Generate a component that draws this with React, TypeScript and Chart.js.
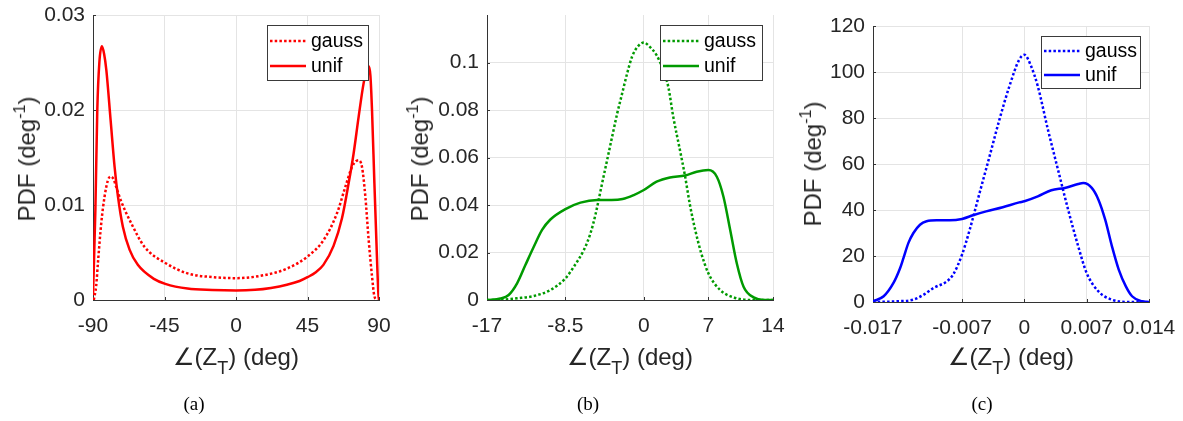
import React, { useEffect, useRef } from "react";
import { Chart, registerables } from "chart.js";

Chart.register(...registerables);

// ---------- Panel (a) ----------
const aTickX = [-90, -45, 0, 45, 90];
const aTickXLabels = ["-90", "-45", "0", "45", "90"];
const aTickY = [0, 0.01, 0.02, 0.03];
const aTickYLabels = ["0", "0.01", "0.02", "0.03"];
const aGaussX = [-89.5, -88, -86.9, -84.8, -82.7, -80.6, -78.9, -77, -75.4, -72.3, -66, -57.6, -44.5, -30.5, -13.8, 0, 17.2, 32, 45.2, 55.1, 63.5, 68.8, 73, 75.5, 77.2, 79.3, 81.4, 83.5, 85.6, 87.1, 88.8];
const aGaussY = [0, 0.0015, 0.0039, 0.0081, 0.0109, 0.0126, 0.013, 0.0127, 0.0119, 0.0104, 0.0081, 0.0056, 0.0039, 0.0028, 0.0024, 0.0023, 0.0026, 0.0033, 0.0046, 0.0063, 0.0091, 0.0119, 0.014, 0.0146, 0.0147, 0.014, 0.0109, 0.0063, 0.0025, 0.0004, 0];
const aUnifX = [-90, -88.5, -87.3, -86, -84.4, -83, -81.6, -78.9, -76.4, -74.3, -71.2, -67, -61.8, -51.4, -44.5, -30.5, -15, 0, 12, 22, 32, 40, 45, 50, 55, 61.4, 66.7, 70.9, 74, 77.2, 80.3, 82.4, 83.6, 84.6, 85.6, 87.1, 88.4, 89.6, 90];
const aUnifY = [0.0005, 0.0095, 0.02, 0.025, 0.0267, 0.0259, 0.0242, 0.0189, 0.014, 0.0109, 0.0077, 0.0053, 0.0037, 0.0022, 0.0017, 0.0012, 0.00105, 0.001, 0.00107, 0.00127, 0.0016, 0.002, 0.0024, 0.0029, 0.0037, 0.0057, 0.0086, 0.0123, 0.0154, 0.0193, 0.0228, 0.0243, 0.0246, 0.0236, 0.02, 0.0123, 0.006, 0.0007, 0];

// ---------- Panel (b) ----------
const bTickX = [-17, -8.5, 0, 7, 14];
const bTickXLabels = ["-17", "-8.5", "0", "7", "14"];
const bTickY = [0, 0.02, 0.04, 0.06, 0.08, 0.1];
const bTickYLabels = ["0", "0.02", "0.04", "0.06", "0.08", "0.1"];
const bGaussX = [-17, -15, -13.74, -11.93, -10.13, -8.5, -7.59, -6.51, -5.79, -5.24, -4.96, -4.53, -3.98, -3.44, -2.89, -2.35, -1.81, -1.27, -0.7, 0, 0.65, 1.38, 2.1, 2.65, 3.19, 3.92, 4.46, 5.0, 5.6, 6.2, 7, 8.27, 9.72, 11.53, 14];
const bGaussY = [0, 0.0002, 0.0007, 0.0017, 0.0042, 0.0091, 0.014, 0.021, 0.028, 0.036, 0.041, 0.049, 0.0589, 0.0687, 0.0785, 0.087, 0.0954, 0.1025, 0.1065, 0.1084, 0.1066, 0.1031, 0.0968, 0.0898, 0.0771, 0.063, 0.0523, 0.04, 0.029, 0.02, 0.0112, 0.0042, 0.0011, 0, 0];
const bUnifX = [-17, -15.55, -14.65, -13.74, -12.84, -11.93, -11.03, -10.13, -8.5, -6.87, -5.06, -3.5, -2.3, -1.09, 0, 1.38, 2.83, 4.46, 5.73, 7, 7.91, 8.63, 9.36, 10.08, 10.81, 11.9, 12.99, 14];
const bUnifY = [0, 0.0006, 0.0021, 0.007, 0.0147, 0.0224, 0.0295, 0.0339, 0.0383, 0.041, 0.0421, 0.0421, 0.0425, 0.0442, 0.0463, 0.0498, 0.0516, 0.0524, 0.054, 0.0547, 0.0519, 0.0435, 0.0295, 0.0154, 0.0056, 0.0011, 0, 0];

// ---------- Panel (c) ----------
const cTickX = [-0.017, -0.007, 0, 0.007, 0.014];
const cTickXLabels = ["-0.017", "-0.007", "0", "0.007", "0.014"];
const cTickY = [0, 20, 40, 60, 80, 100, 120];
const cTickYLabels = ["0", "20", "40", "60", "80", "100", "120"];
const cGaussX = [-0.017, -0.0143, -0.0125, -0.0113, -0.0102, -0.0087, -0.008, -0.007, -0.00614, -0.00503, -0.00391, -0.0028, -0.00168, -0.00057, 0, 0.00076, 0.00151, 0.00265, 0.00378, 0.00492, 0.00605, 0.007, 0.00832, 0.00984, 0.0117, 0.014];
const cGaussY = [0, 0.3, 1.0, 3.2, 6.1, 9.0, 11.9, 20.6, 31.4, 47.4, 63.3, 79.3, 93.8, 105.4, 107.5, 102.5, 93.8, 74.9, 57.5, 40.1, 24.2, 12.6, 4.6, 1.0, 0, 0];
const cUnifX = [-0.017, -0.0158, -0.0147, -0.01395, -0.01358, -0.01302, -0.01246, -0.01172, -0.01098, -0.00986, -0.00838, -0.007, -0.00577, -0.00429, -0.00243, -0.00057, 0, 0.00151, 0.00303, 0.00454, 0.00605, 0.00662, 0.00757, 0.00832, 0.00908, 0.00984, 0.0106, 0.0114, 0.0121, 0.0132, 0.014];
const cUnifY = [0.3, 2.5, 8.3, 14.8, 19.1, 25.7, 30.0, 33.6, 35.1, 35.5, 35.5, 36.1, 37.7, 39.4, 41.2, 43.3, 43.8, 45.9, 48.6, 49.6, 51.3, 51.7, 49.6, 44.5, 35.8, 24.2, 14.1, 6.8, 2.5, 0.3, 0];

const seriesNames = ["gauss", "unif"];
const panelColors = ["#ff0000", "#009a00", "#0000ff"];
const captions = ["(a)", "(b)", "(c)"];

const FONT = '"Liberation Sans", "DejaVu Sans", Arial, sans-serif';
const TEXT = "#262626";
const CANVAS_TOP = -40; // canvas starts above page so label overflow padding never shrinks the plot
const PAD_RIGHT = 50;

type Panel = {
  left: number;
  area: { left: number; right: number; top: number; bottom: number };
  xMin: number; xMax: number; yMin: number; yMax: number;
  tickX: number[]; tickXLabels: string[]; tickY: number[]; tickYLabels: string[];
  gx: number[]; gy: number[]; ux: number[]; uy: number[];
  color: string;
  legend: { right: number; top: number; width: number; height: number; rows: number[] };
  yTitleX: number; yTitleY: number; captionX: number; caption: string;
};

const panels: Panel[] = [
  {
    left: 0,
    area: { left: 93, right: 379, top: 15, bottom: 300 },
    xMin: -90, xMax: 90, yMin: 0, yMax: 0.03,
    tickX: aTickX, tickXLabels: aTickXLabels, tickY: aTickY, tickYLabels: aTickYLabels,
    gx: aGaussX, gy: aGaussY, ux: aUnifX, uy: aUnifY, color: panelColors[0],
    legend: { right: 112, top: 10, width: 101, height: 55, rows: [16, 41] },
    yTitleX: 27, yTitleY: 159, captionX: 194, caption: captions[0],
  },
  {
    left: 395,
    area: { left: 487, right: 773, top: 15, bottom: 300 },
    xMin: -17, xMax: 14, yMin: 0, yMax: 0.12,
    tickX: bTickX, tickXLabels: bTickXLabels, tickY: bTickY, tickYLabels: bTickYLabels,
    gx: bGaussX, gy: bGaussY, ux: bUnifX, uy: bUnifY, color: panelColors[1],
    legend: { right: 113, top: 10, width: 102, height: 55, rows: [16, 41] },
    yTitleX: 420, yTitleY: 159, captionX: 588, caption: captions[1],
  },
  {
    left: 790,
    area: { left: 873, right: 1149, top: 26, bottom: 302 },
    xMin: -0.017, xMax: 0.014, yMin: 0, yMax: 120,
    tickX: cTickX, tickXLabels: cTickXLabels, tickY: cTickY, tickYLabels: cTickYLabels,
    gx: cGaussX, gy: cGaussY, ux: cUnifX, uy: cUnifY, color: panelColors[2],
    legend: { right: 108, top: 10, width: 99, height: 52, rows: [15, 39] },
    yTitleX: 813, yTitleY: 164, captionX: 982, caption: captions[2],
  },
];

const CANVAS_BOTTOM = 348;

const zip = (xs: number[], ys: number[]) => xs.map((x, i) => ({ x, y: ys[i] }));

const boxLegend = {
  id: "boxLegend",
  afterDatasetsDraw(chart: any, _args: any, opts: any) {
    const { ctx, chartArea } = chart;
    const x = Math.round(chartArea.right - opts.right);
    const y = Math.round(chartArea.top + opts.top);
    ctx.save();
    ctx.fillStyle = "#ffffff";
    ctx.fillRect(x, y, opts.width, opts.height);
    ctx.strokeStyle = "#3a3a3a";
    ctx.lineWidth = 1;
    ctx.setLineDash([]);
    ctx.strokeRect(x + 0.5, y + 0.5, opts.width, opts.height);
    chart.data.datasets.forEach((ds: any, i: number) => {
      const ry = y + opts.rows[i];
      ctx.beginPath();
      ctx.setLineDash(ds.borderDash || []);
      ctx.strokeStyle = ds.borderColor;
      ctx.lineWidth = ds.borderWidth;
      ctx.lineCap = "butt";
      ctx.moveTo(x + 3, ry);
      ctx.lineTo(x + 39, ry);
      ctx.stroke();
      ctx.setLineDash([]);
      ctx.fillStyle = "#000000";
      ctx.font = `19.5px ${FONT}`;
      ctx.textBaseline = "middle";
      ctx.textAlign = "left";
      ctx.fillText(ds.label, x + 44, ry + 1);
    });
    ctx.restore();
  },
};

const innerTicks = {
  id: "innerTicks",
  beforeDatasetsDraw(chart: any) {
    const { ctx, chartArea, scales } = chart;
    const xs = scales.x, ys = scales.y;
    ctx.save();
    ctx.strokeStyle = "#333333";
    ctx.lineWidth = 1;
    xs.ticks.forEach((t: any) => {
      const px = Math.round(xs.getPixelForValue(t.value)) + 0.5;
      ctx.beginPath();
      ctx.moveTo(px, chartArea.bottom);
      ctx.lineTo(px, chartArea.bottom - 3);
      ctx.stroke();
    });
    ys.ticks.forEach((t: any) => {
      const py = Math.round(ys.getPixelForValue(t.value)) + 0.5;
      ctx.beginPath();
      ctx.moveTo(chartArea.left, py);
      ctx.lineTo(chartArea.left + 3, py);
      ctx.stroke();
    });
    ctx.restore();
  },
};

function PanelChart({ p }: { p: Panel }) {
  const ref = useRef<HTMLCanvasElement | null>(null);
  const width = p.area.right + PAD_RIGHT - p.left;
  const height = CANVAS_BOTTOM - CANVAS_TOP;
  useEffect(() => {
    if (!ref.current) return;
    const padTop = p.area.top - CANVAS_TOP;
    const yW = p.area.left - p.left;
    const xH = CANVAS_BOTTOM - p.area.bottom;
    const chart = new Chart(ref.current, {
      type: "line",
      data: {
        datasets: [
          {
            label: seriesNames[0],
            data: zip(p.gx, p.gy),
            borderColor: p.color,
            backgroundColor: p.color,
            borderWidth: 2.5,
            borderDash: [2.5, 2.2],
            pointRadius: 0,
            cubicInterpolationMode: "monotone",
            fill: false,
          },
          {
            label: seriesNames[1],
            data: zip(p.ux, p.uy),
            borderColor: p.color,
            backgroundColor: p.color,
            borderWidth: 2.5,
            pointRadius: 0,
            cubicInterpolationMode: "monotone",
            fill: false,
          },
        ],
      },
      options: {
        animation: false,
        responsive: false,
        devicePixelRatio: 1,
        events: [],
        layout: { padding: { top: padTop, right: PAD_RIGHT, left: 0, bottom: 0 } },
        plugins: {
          legend: { display: false },
          tooltip: { enabled: false },
          boxLegend: p.legend,
        } as any,
        scales: {
          x: {
            type: "linear",
            min: p.xMin,
            max: p.xMax,
            afterBuildTicks: (s: any) => { s.ticks = p.tickX.map((v) => ({ value: v })); },
            afterFit: (s: any) => { s.height = xH; },
            ticks: {
              autoSkip: false,
              maxRotation: 0,
              padding: 14,
              color: TEXT,
              font: { family: FONT, size: 21 },
              callback: (v: any) => {
                const i = p.tickX.findIndex((t) => Math.abs(t - v) < 1e-9);
                return i >= 0 ? p.tickXLabels[i] : "";
              },
            },
            grid: { color: "#e4e4e4", drawTicks: false, lineWidth: 1 },
            border: { display: true, color: "#333333", width: 1 },
          },
          y: {
            type: "linear",
            min: p.yMin,
            max: p.yMax,
            afterBuildTicks: (s: any) => { s.ticks = p.tickY.map((v) => ({ value: v })); },
            afterFit: (s: any) => { s.width = yW; },
            ticks: {
              autoSkip: false,
              padding: 8,
              color: TEXT,
              font: { family: FONT, size: 21 },
              callback: (v: any) => {
                const i = p.tickY.findIndex((t) => Math.abs(t - v) < 1e-9);
                return i >= 0 ? p.tickYLabels[i] : "";
              },
            },
            grid: { color: "#e4e4e4", drawTicks: false, lineWidth: 1 },
            border: { display: true, color: "#333333", width: 1 },
          },
        },
      } as any,
      plugins: [innerTicks, boxLegend],
    });
    return () => chart.destroy();
  }, [p]);

  const cx = (p.area.left + p.area.right) / 2;
  return (
    <>
      <div style={{ position: "absolute", left: p.left, top: CANVAS_TOP, width, height }}>
        <canvas ref={ref} width={width} height={height} style={{ width, height, display: "block" }} />
      </div>
      <div
        style={{
          position: "absolute", left: p.yTitleX, top: p.yTitleY,
          transform: "translate(-50%, -50%) rotate(-90deg)",
          whiteSpace: "nowrap", fontFamily: FONT, fontSize: 24, color: TEXT, lineHeight: "normal",
        }}
      >
        PDF (deg<span style={{ fontSize: 16, position: "relative", top: -10 }}>-1</span>)
      </div>
      <div
        style={{
          position: "absolute", left: cx, top: 343, transform: "translateX(-50%)",
          whiteSpace: "nowrap", fontFamily: FONT, fontSize: 24, color: TEXT, lineHeight: "normal",
        }}
      >
        ∠(Z<span style={{ fontSize: 18, position: "relative", top: 9 }}>T</span>) (deg)
      </div>
      <div
        style={{
          position: "absolute", left: p.captionX, top: 393, transform: "translateX(-50%)",
          whiteSpace: "nowrap", fontFamily: '"Liberation Serif", "Times New Roman", serif', fontSize: 19, color: "#000",
          lineHeight: "normal",
        }}
      >
        {p.caption}
      </div>
    </>
  );
}

export default function App() {
  return (
    <div style={{ position: "absolute", left: 0, top: 0, width: 1183, height: 421, background: "#ffffff", overflow: "hidden" }}>
      {panels.map((p, i) => (
        <PanelChart key={i} p={p} />
      ))}
    </div>
  );
}
